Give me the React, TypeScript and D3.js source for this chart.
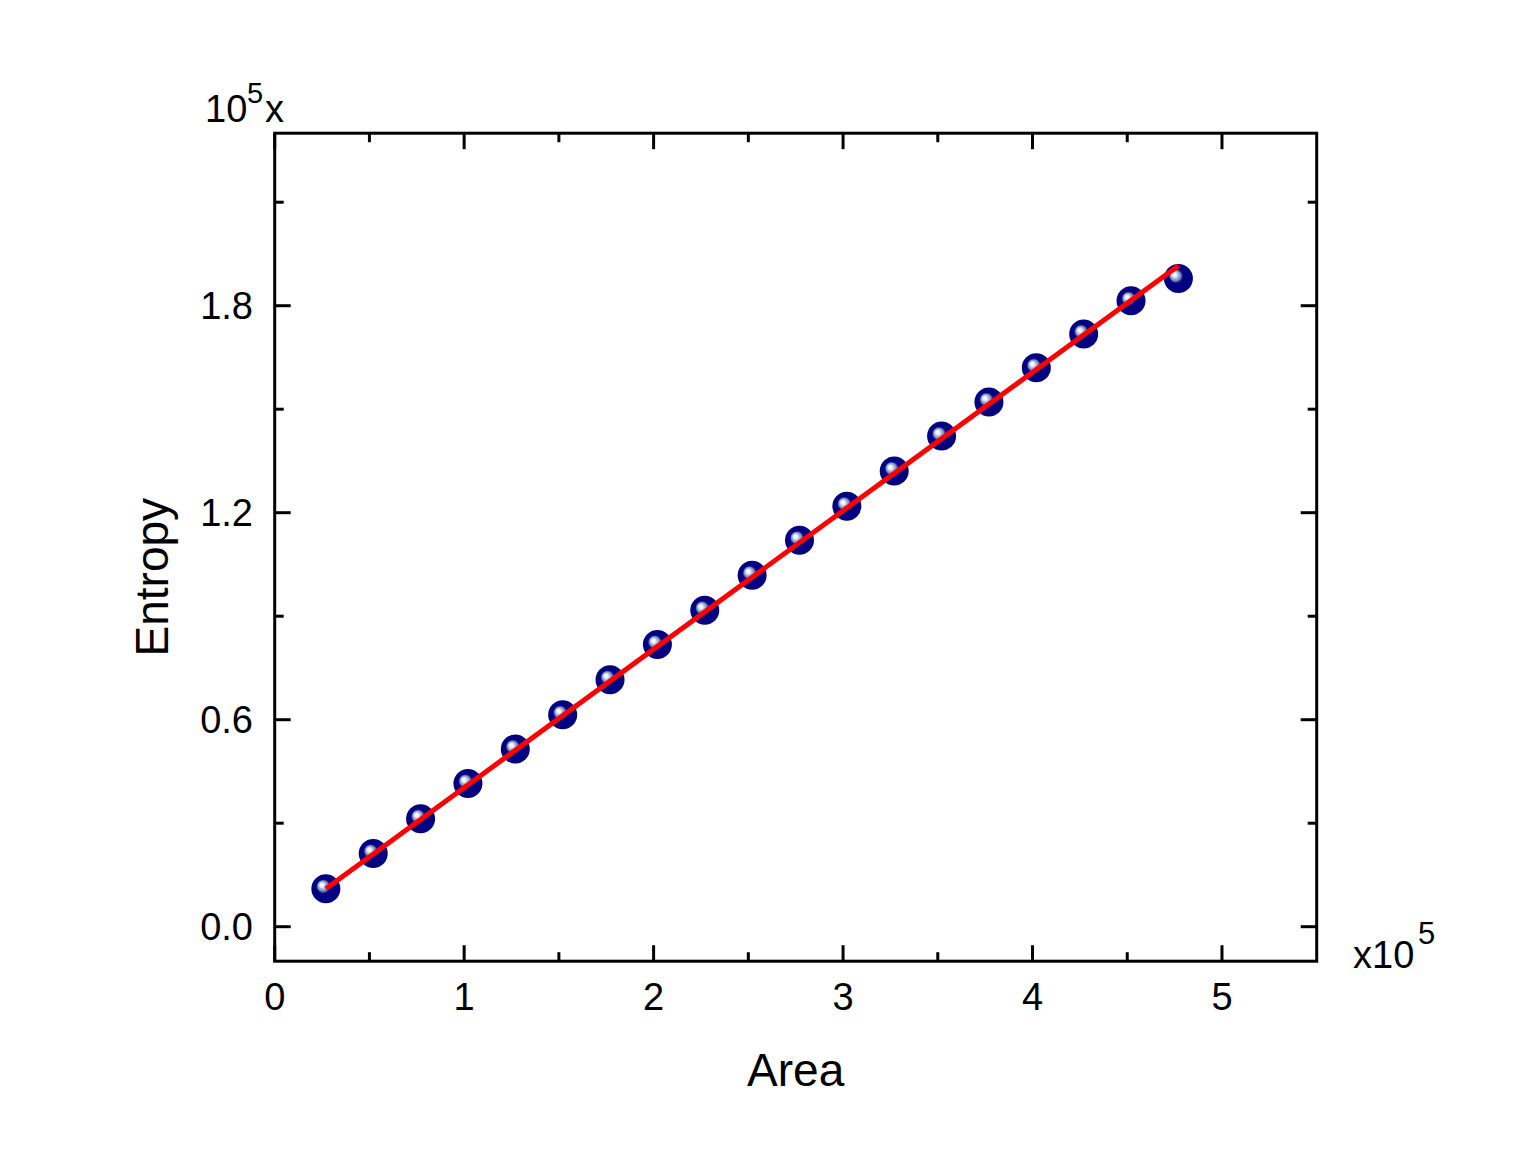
import React from "react";
import { scaleLinear, line } from "d3";

// Area (x10^5) and Entropy (x10^5)
const areaValues = [0.27, 0.52, 0.77, 1.02, 1.27, 1.52, 1.77, 2.02, 2.27, 2.52, 2.77, 3.02, 3.27, 3.52, 3.77, 4.02, 4.27, 4.52, 4.77];
const entropyValues = [0.11, 0.212, 0.313, 0.415, 0.515, 0.614, 0.716, 0.818, 0.917, 1.019, 1.12, 1.219, 1.321, 1.422, 1.521, 1.62, 1.718, 1.814, 1.879];

// linear fit drawn in red (two ends)
const fitX = [0.27, 4.77];
const fitY = [0.11, 1.916];

const xMajorTicks = [0, 1, 2, 3, 4, 5];
const xMinorTicks = [0.5, 1.5, 2.5, 3.5, 4.5];
const xTickLabels = ["0", "1", "2", "3", "4", "5"];
const yMajorTicks = [0, 0.6, 1.2, 1.8];
const yMinorTicks = [0.3, 0.9, 1.5, 2.1];
const yTickLabels = ["0.0", "0.6", "1.2", "1.8"];

const W = 1530;
const H = 1152;
const left = 274.7;
const right = 1316.7;
const top = 133.2;
const bottom = 961.2;
const font = "'Liberation Sans', Arial, sans-serif";

const App = () => {
  const x = scaleLinear().domain([0, 5.5]).range([left, right]);
  const y = scaleLinear().domain([-0.1, 2.3]).range([bottom, top]);

  const fitLine = line<number>()
    .x((d) => x(d))
    .y((d, i) => y(fitY[i]));

  const major = 16;
  const minor = 9;

  return (
    <svg width={W} height={H} style={{ position: "absolute", left: 0, top: 0, background: "#fff" }}>
      <defs>
        <radialGradient id="ball" cx="50%" cy="50%" r="50%" fx="34%" fy="35%">
          <stop offset="0" stopColor="#ffffff" />
          <stop offset="0.14" stopColor="#eef3fa" />
          <stop offset="0.22" stopColor="#b4c4e0" />
          <stop offset="0.36" stopColor="#7888bc" />
          <stop offset="0.46" stopColor="#101890" />
          <stop offset="0.52" stopColor="#000080" />
          <stop offset="1" stopColor="#000080" />
        </radialGradient>
      </defs>

      {/* ticks, inward, on all four sides */}
      <g stroke="#000" strokeWidth={3}>
        {xMajorTicks.map((t) => (
          <g key={"xm" + t}>
            <line x1={x(t)} x2={x(t)} y1={bottom} y2={bottom - major} />
            <line x1={x(t)} x2={x(t)} y1={top} y2={top + major} />
          </g>
        ))}
        {xMinorTicks.map((t) => (
          <g key={"xn" + t}>
            <line x1={x(t)} x2={x(t)} y1={bottom} y2={bottom - minor} />
            <line x1={x(t)} x2={x(t)} y1={top} y2={top + minor} />
          </g>
        ))}
        {yMajorTicks.map((t) => (
          <g key={"ym" + t}>
            <line x1={left} x2={left + major} y1={y(t)} y2={y(t)} />
            <line x1={right} x2={right - major} y1={y(t)} y2={y(t)} />
          </g>
        ))}
        {yMinorTicks.map((t) => (
          <g key={"yn" + t}>
            <line x1={left} x2={left + minor} y1={y(t)} y2={y(t)} />
            <line x1={right} x2={right - minor} y1={y(t)} y2={y(t)} />
          </g>
        ))}
      </g>

      {areaValues.map((a, i) => (
        <circle key={i} cx={x(a)} cy={y(entropyValues[i])} r={14.5} fill="url(#ball)" />
      ))}

      <path d={fitLine(fitX) || ""} fill="none" stroke="#ff0000" strokeWidth={5} />

      <rect x={left} y={top} width={right - left} height={bottom - top} fill="none" stroke="#000" strokeWidth={3} />

      <g fontFamily={font} fontSize={38} fill="#000">
        {xMajorTicks.map((t, i) => (
          <text key={"xl" + t} x={x(t)} y={1010} textAnchor="middle">
            {xTickLabels[i]}
          </text>
        ))}
        {yMajorTicks.map((t, i) => (
          <text key={"yl" + t} x={253} y={y(t) + 13} textAnchor="end">
            {yTickLabels[i]}
          </text>
        ))}
        <text x={205} y={122}>10</text>
        <text x={247} y={103} fontSize={29}>5</text>
        <text x={265} y={122}>x</text>
        <text x={1353} y={968}>x10</text>
        <text x={1418} y={944} fontSize={31}>5</text>
      </g>

      <g fontFamily={font} fontSize={46} fill="#000">
        <text x={(left + right) / 2} y={1086} textAnchor="middle">Area</text>
        <text transform={`translate(168, ${(top + bottom) / 2 + 30}) rotate(-90)`} textAnchor="middle">Entropy</text>
      </g>
    </svg>
  );
};

export default App;
